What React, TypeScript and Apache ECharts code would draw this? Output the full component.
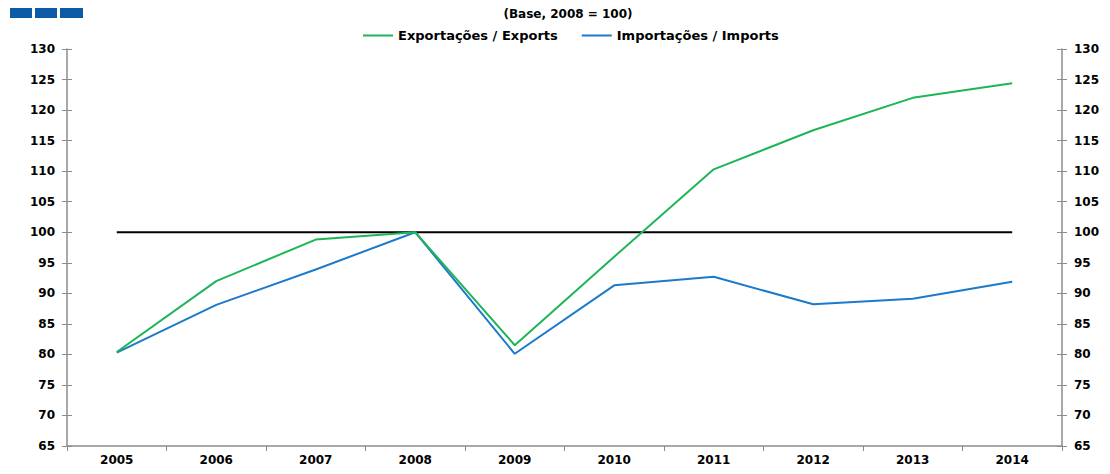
import React, { useEffect, useRef } from "react";
import * as echarts from "echarts";

const years = ["2005", "2006", "2007", "2008", "2009", "2010", "2011", "2012", "2013", "2014"];
const exportsIdx = [80.4, 92.0, 98.8, 100.0, 81.5, 96.0, 110.3, 116.7, 122.0, 124.4];
const importsIdx = [80.3, 88.1, 93.9, 100.0, 80.1, 91.3, 92.7, 88.2, 89.1, 91.9];
const baseLine = [100, 100, 100, 100, 100, 100, 100, 100, 100, 100];
const exportsName = "Exportações / Exports";
const importsName = "Importações / Imports";
const titleText = "(Base, 2008 = 100)";

const FONT = "'DejaVu Sans', sans-serif";

export default function App() {
  const ref = useRef<HTMLDivElement>(null);
  useEffect(() => {
    if (!ref.current) return;
    const chart = echarts.init(ref.current, null, { renderer: "svg" });
    const yBase = {
      type: "value",
      min: 65,
      max: 130,
      interval: 5,
      splitLine: { show: false },
    };
    const axisLine = { show: true, lineStyle: { color: "#8c8c8c", width: 1.5 } };
    const label = { color: "#000", fontFamily: FONT, fontWeight: "bold", fontSize: 12 };
    chart.setOption({
      animation: false,
      title: {
        text: titleText,
        left: 555,
        top: -5,
        textAlign: "center",
        textStyle: { fontFamily: FONT, fontWeight: "bold", fontSize: 12, color: "#000" },
      },
      legend: {
        data: [exportsName, importsName],
        top: 16,
        left: 350,
        itemWidth: 30,
        itemHeight: 2,
        itemGap: 24,
        icon: "rect",
        textStyle: { fontFamily: FONT, fontWeight: "bold", fontSize: 13, color: "#000" },
      },
      graphic: [
        { type: "rect", shape: { x: 2, y: -4, width: 22, height: 14 }, style: { fill: "#0b5aa6" } },
        { type: "rect", shape: { x: 27, y: -4, width: 22, height: 14 }, style: { fill: "#0b5aa6" } },
        { type: "rect", shape: { x: 52, y: -4, width: 23, height: 14 }, style: { fill: "#0b5aa6" } },
      ],
      grid: { left: 59, right: 35, top: 41, bottom: 17 },
      xAxis: {
        type: "category",
        data: years,
        boundaryGap: true,
        axisLine: axisLine,
        axisTick: { show: true, length: 5, lineStyle: { color: "#8c8c8c" } },
        axisLabel: { ...label, margin: 8 },
      },
      yAxis: [
        { ...yBase, position: "left", axisLine, axisTick: { show: true, length: 5, lineStyle: { color: "#8c8c8c" } }, axisLabel: { ...label, margin: 12 } },
        { ...yBase, position: "right", axisLine, axisTick: { show: true, length: 5, lineStyle: { color: "#8c8c8c" } }, axisLabel: { ...label, margin: 12 } },
        { ...yBase, position: "left", axisLine: { show: false }, axisTick: { show: true, inside: true, length: 5, lineStyle: { color: "#8c8c8c" } }, axisLabel: { show: false } },
        { ...yBase, position: "right", axisLine: { show: false }, axisTick: { show: true, inside: true, length: 5, lineStyle: { color: "#8c8c8c" } }, axisLabel: { show: false } },
      ],
      series: [
        {
          name: "base",
          type: "line",
          data: baseLine,
          symbol: "none",
          lineStyle: { color: "#000", width: 2 },
          itemStyle: { color: "#000" },
          z: 1,
        },
        {
          name: exportsName,
          type: "line",
          data: exportsIdx,
          symbol: "none",
          lineStyle: { color: "#1db557", width: 2 },
          itemStyle: { color: "#1db557" },
          z: 3,
        },
        {
          name: importsName,
          type: "line",
          data: importsIdx,
          symbol: "none",
          lineStyle: { color: "#1c7acb", width: 2 },
          itemStyle: { color: "#1c7acb" },
          z: 2,
        },
      ],
    });
    return () => chart.dispose();
  }, []);
  return <div ref={ref} style={{ width: 1094, height: 458 }} />;
}
